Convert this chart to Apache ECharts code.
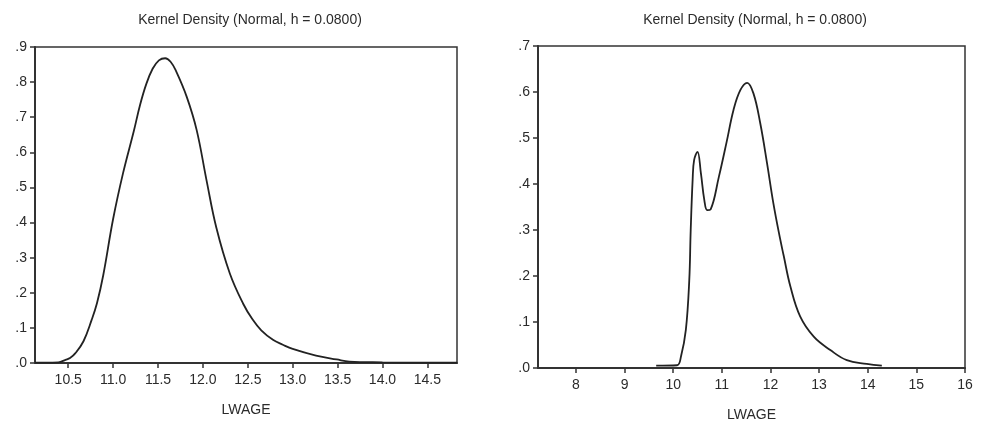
<!DOCTYPE html>
<html>
<head>
<meta charset="utf-8">
<script src="https://cdn.jsdelivr.net/npm/echarts@6/dist/echarts.min.js"></script>
<style>
  html, body { margin: 0; padding: 0; background: #fff; }
  #main { width: 981px; height: 429px; }
</style>
</head>
<body>
<div id="main"></div>
<script>
// left panel: kernel density of LWAGE (x, density)
const leftDensity = [
  [10.13, 0.001], [10.25, 0.001], [10.39, 0.002], [10.47, 0.009], [10.52, 0.014],
  [10.58, 0.028], [10.67, 0.062], [10.76, 0.122], [10.82, 0.17], [10.89, 0.25],
  [11.0, 0.41], [11.11, 0.54], [11.23, 0.66], [11.3, 0.735], [11.37, 0.795],
  [11.44, 0.838], [11.51, 0.862], [11.58, 0.868], [11.64, 0.858], [11.7, 0.832],
  [11.82, 0.758], [11.93, 0.664], [12.04, 0.521], [12.15, 0.385], [12.3, 0.255],
  [12.45, 0.168], [12.55, 0.125], [12.65, 0.093], [12.78, 0.066], [12.89, 0.052],
  [13.0, 0.04], [13.26, 0.021], [13.49, 0.01], [13.63, 0.004], [14.0, 0.002],
  [14.5, 0.001], [14.83, 0.001]
];
// right panel
const rightDensity = [
  [9.65, 0.005], [10.08, 0.006], [10.16, 0.025], [10.26, 0.083], [10.33, 0.19],
  [10.36, 0.3], [10.4, 0.41], [10.43, 0.452], [10.5, 0.47], [10.57, 0.423],
  [10.64, 0.365], [10.7, 0.343], [10.77, 0.345], [10.94, 0.416], [11.1, 0.492],
  [11.24, 0.561], [11.38, 0.604], [11.52, 0.62], [11.65, 0.597], [11.79, 0.532],
  [11.93, 0.445], [12.06, 0.358], [12.2, 0.28], [12.27, 0.245], [12.41, 0.177],
  [12.61, 0.112], [12.89, 0.068], [13.23, 0.039], [13.57, 0.017], [13.98, 0.009],
  [14.29, 0.005]
];
const leftXTicks = [10.5, 11.0, 11.5, 12.0, 12.5, 13.0, 13.5, 14.0, 14.5];
const rightXTicks = [8, 9, 10, 11, 12, 13, 14, 15, 16];
const titleText = 'Kernel Density (Normal, h = 0.0800)';
const xName = 'LWAGE';

const FONT = '"Liberation Sans", Arial, sans-serif';
const TXT = '#2b2b2b';
const LINE = '#333';

const chart = echarts.init(document.getElementById('main'), null, { renderer: 'canvas' });

function yLabel(v) {
  return v.toFixed(1).replace(/^0/, '');
}

function xAxis(idx, min, max, ticks, digits) {
  return {
    type: 'value', gridIndex: idx, min: min, max: max,
    name: xName, nameLocation: 'middle', nameGap: 40,
    nameTextStyle: { color: TXT, fontFamily: FONT, fontSize: 14 },
    axisLine: { show: true, lineStyle: { color: LINE, width: 2 } },
    axisTick: { show: true, inside: false, length: 5, customValues: ticks, lineStyle: { color: LINE, width: 1.5 } },
    axisLabel: {
      customValues: ticks, margin: 10, color: TXT, fontFamily: FONT, fontSize: 14,
      formatter: v => v.toFixed(digits)
    },
    splitLine: { show: false }
  };
}

function yAxis(idx, max) {
  return {
    type: 'value', gridIndex: idx, min: 0, max: max, interval: 0.1,
    axisLine: { show: true, lineStyle: { color: LINE, width: 2 } },
    axisTick: { show: true, inside: false, length: 5, lineStyle: { color: LINE, width: 1.5 } },
    axisLabel: { margin: 8, color: TXT, fontFamily: FONT, fontSize: 14, formatter: yLabel },
    splitLine: { show: false }
  };
}

const option = {
  backgroundColor: '#fff',
  animation: false,
  title: [
    { text: titleText, left: 245, top: 8, textAlign: 'center',
      textStyle: { color: TXT, fontFamily: FONT, fontSize: 14, fontWeight: 'normal' } },
    { text: titleText, left: 750, top: 8, textAlign: 'center',
      textStyle: { color: TXT, fontFamily: FONT, fontSize: 14, fontWeight: 'normal' } }
  ],
  grid: [
    { left: 35, top: 47, width: 422, height: 316, show: true, borderColor: LINE, borderWidth: 1.5 },
    { left: 538, top: 46, width: 427, height: 322, show: true, borderColor: LINE, borderWidth: 1.5 }
  ],
  xAxis: [
    xAxis(0, 10.13, 14.83, leftXTicks, 1),
    xAxis(1, 7.22, 16, rightXTicks, 0)
  ],
  yAxis: [
    yAxis(0, 0.9),
    yAxis(1, 0.7)
  ],
  series: [
    { type: 'line', xAxisIndex: 0, yAxisIndex: 0, data: leftDensity, showSymbol: false,
      smooth: 0.4, lineStyle: { color: '#222', width: 1.8 } },
    { type: 'line', xAxisIndex: 1, yAxisIndex: 1, data: rightDensity, showSymbol: false,
      smooth: 0.4, lineStyle: { color: '#222', width: 1.8 } }
  ]
};

chart.setOption(option);
</script>
</body>
</html>
